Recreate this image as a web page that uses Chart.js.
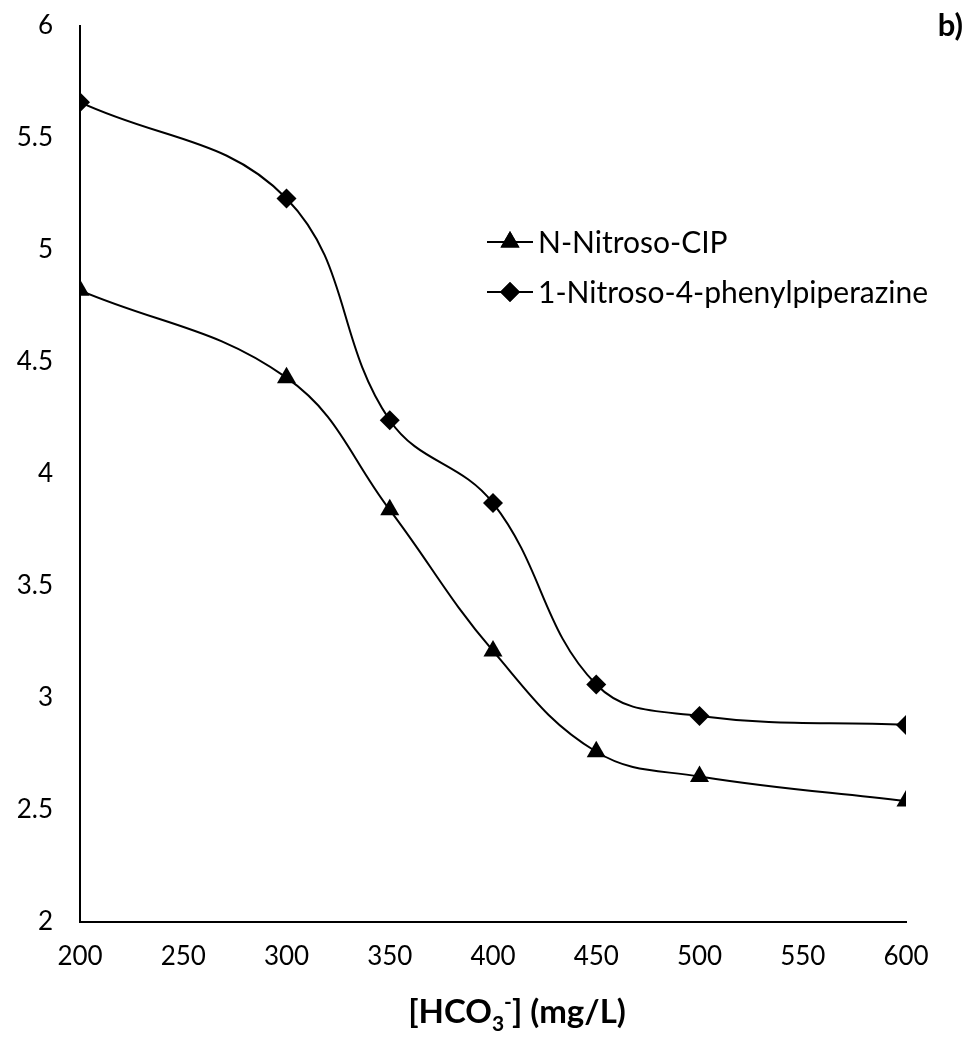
<!DOCTYPE html>
<html>
<head>
<meta charset="utf-8">
<script src="https://cdn.jsdelivr.net/npm/chart.js@4.4.0/dist/chart.umd.min.js"></script>
<style>
  html, body { margin: 0; padding: 0; background: #fff; }
  #wrap { width: 980px; height: 1044px; }
</style>
</head>
<body>
<div id="wrap"><canvas id="chart"></canvas></div>
<script>
// values
const hco3 = [200, 300, 350, 400, 450, 500, 600];
const nitrosoCip = [4.82, 4.43, 3.84, 3.21, 2.76, 2.65, 2.54];
const nitrosoPhenyl = [5.66, 5.23, 4.24, 3.87, 3.06, 2.92, 2.88];
const seriesNames = ['N-Nitroso-CIP', '1-Nitroso-4-phenylpiperazine'];
const xRange = [200, 600, 50];
const yRange = [2, 6, 0.5];

const font = 'Lato';

function toPoints(xs, ys) {
    return xs.map((x, i) => ({x: x, y: ys[i]}));
}

// legend sits inside the plot, like the Excel one
const insideLegend = {
    id: 'insideLegend',
    afterDraw(chart) {
        const ctx = chart.ctx;
        const x0 = 487, rows = [242, 292];
        chart.data.datasets.forEach((ds, i) => {
            const y = rows[i];
            ctx.save();
            ctx.strokeStyle = '#000';
            ctx.lineWidth = 2;
            ctx.beginPath();
            ctx.moveTo(x0, y);
            ctx.lineTo(x0 + 46, y);
            ctx.stroke();
            Chart.helpers.drawPoint(ctx, {
                pointStyle: ds.pointStyle,
                radius: ds.pointRadius,
                rotation: 0,
                borderWidth: 0
            }, x0 + 23, y);
            ctx.fillStyle = '#000';
            ctx.fill();
            ctx.font = '30px ' + font;
            ctx.textBaseline = 'middle';
            ctx.textAlign = 'left';
            ctx.fillText(ds.label, x0 + 51, y + 1);
            ctx.restore();
        });
    }
};

// x axis title with sub/superscript, and the panel letter
const extraText = {
    id: 'extraText',
    afterDraw(chart) {
        const ctx = chart.ctx;
        ctx.save();
        ctx.fillStyle = '#000';
        ctx.textBaseline = 'alphabetic';
        ctx.textAlign = 'left';
        const big = 'bold 33px ' + font, small = 'bold 21px ' + font;
        const parts = [
            ['[HCO', big, 0],
            ['3', small, 8],
            ['-', small, -14],
            ['] (mg/L)', big, 0]
        ];
        let w = 0;
        parts.forEach(p => { ctx.font = p[1]; w += ctx.measureText(p[0]).width; });
        let x = 517 - w / 2;
        const base = 1023;
        parts.forEach(p => {
            ctx.font = p[1];
            ctx.fillText(p[0], x, base + p[2]);
            x += ctx.measureText(p[0]).width;
        });
        ctx.font = 'bold 31px ' + font;
        ctx.textAlign = 'right';
        ctx.fillText('b)', 963, 36);
        ctx.restore();
    }
};

new Chart(document.getElementById('chart'), {
    type: 'line',
    data: {
        datasets: [{
            label: seriesNames[0],
            data: toPoints(hco3, nitrosoCip),
            borderColor: '#000',
            backgroundColor: '#000',
            borderWidth: 2,
            pointStyle: 'triangle',
            pointRadius: 11,
            pointBackgroundColor: '#000',
            pointBorderWidth: 0,
            tension: 0.4
        }, {
            label: seriesNames[1],
            data: toPoints(hco3, nitrosoPhenyl),
            borderColor: '#000',
            backgroundColor: '#000',
            borderWidth: 2,
            pointStyle: 'rectRot',
            pointRadius: 10,
            pointBackgroundColor: '#000',
            pointBorderWidth: 0,
            tension: 0.4
        }]
    },
    options: {
        responsive: true,
        maintainAspectRatio: false,
        animation: false,
        layout: {
            padding: {top: 26, right: 74, left: 0, bottom: 0}
        },
        scales: {
            x: {
                type: 'linear',
                min: xRange[0],
                max: xRange[1],
                afterFit: s => { s.height = 122; },
                ticks: {
                    stepSize: xRange[2],
                    color: '#000',
                    padding: 19,
                    font: {family: font, size: 26},
                    maxRotation: 0
                },
                grid: {display: false, drawTicks: false},
                border: {display: true, color: '#000', width: 2}
            },
            y: {
                type: 'linear',
                min: yRange[0],
                max: yRange[1],
                afterFit: s => {
                    s.width = 80;
                    s.paddingTop = 0;
                    s.paddingBottom = 0;
                },
                ticks: {
                    stepSize: yRange[2],
                    color: '#000',
                    padding: 27,
                    font: {family: font, size: 26},
                    callback: v => String(v)
                },
                grid: {display: false, drawTicks: false},
                border: {display: true, color: '#000', width: 2}
            }
        },
        plugins: {
            legend: {display: false},
            tooltip: {enabled: false}
        }
    },
    plugins: [insideLegend, extraText]
});
</script>
</body>
</html>
